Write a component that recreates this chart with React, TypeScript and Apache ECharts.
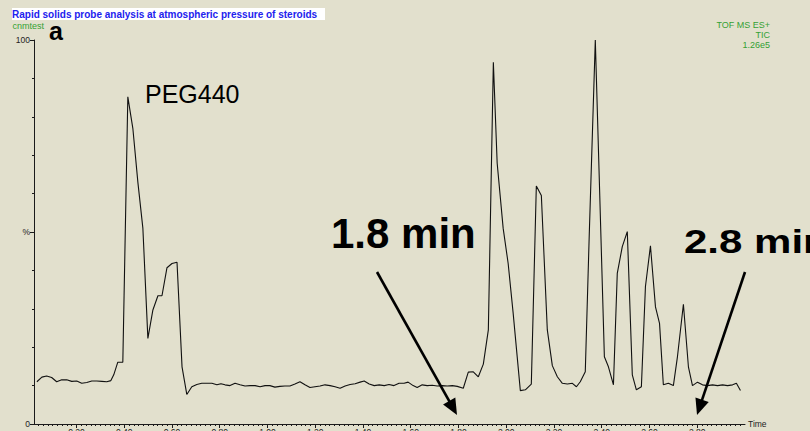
import React, { useEffect, useRef } from 'react';
import * as echarts from 'echarts';

// Retention time (min)
const times = [
  0.034, 0.055, 0.075, 0.096, 0.117, 0.138, 0.159, 0.180, 0.201, 0.222,
  0.243, 0.264, 0.285, 0.306, 0.327, 0.344, 0.356, 0.373, 0.394, 0.415,
  0.436, 0.457, 0.478, 0.499, 0.520, 0.541, 0.558, 0.579, 0.600, 0.621,
  0.642, 0.662, 0.683, 0.704, 0.725, 0.746, 0.767, 0.788, 0.805, 0.822,
  0.843, 0.864, 0.885, 0.906, 0.927, 0.948, 0.969, 0.990, 1.010, 1.031,
  1.052, 1.073, 1.094, 1.115, 1.136, 1.157, 1.178, 1.199, 1.220, 1.241,
  1.262, 1.283, 1.304, 1.325, 1.346, 1.367, 1.388, 1.405, 1.426, 1.447,
  1.468, 1.489, 1.509, 1.530, 1.551, 1.572, 1.589, 1.610, 1.627, 1.648,
  1.669, 1.690, 1.711, 1.732, 1.753, 1.774, 1.795, 1.820, 1.841, 1.862,
  1.883, 1.904, 1.925, 1.946, 1.962, 1.987, 2.008, 2.029, 2.059, 2.080,
  2.105, 2.126, 2.147, 2.172, 2.193, 2.214, 2.235, 2.256, 2.277, 2.294,
  2.310, 2.331, 2.348, 2.373, 2.411, 2.428, 2.449, 2.465, 2.486, 2.507,
  2.528, 2.545, 2.566, 2.583, 2.604, 2.625, 2.642, 2.658, 2.679, 2.700,
  2.717, 2.742, 2.763, 2.780, 2.801, 2.822, 2.843, 2.864, 2.885, 2.906,
  2.927, 2.948, 2.964, 2.981,
];

// Relative intensity (%)
const intensity = [
  11.0, 12.2, 12.5, 12.1, 11.0, 11.5, 11.5, 11.1, 11.2, 10.6,
  10.8, 11.2, 11.2, 11.1, 11.0, 11.3, 12.8, 16.1, 16.1, 85.2,
  77.0, 63.0, 51.0, 22.3, 29.7, 33.4, 33.4, 40.7, 41.8, 42.1,
  14.9, 7.7, 9.7, 10.3, 10.6, 10.6, 10.6, 10.2, 10.5, 10.2,
  10.0, 10.6, 10.2, 9.9, 10.0, 10.0, 9.7, 10.0, 10.0, 9.6,
  9.8, 9.9, 9.9, 10.4, 11.0, 10.2, 9.5, 9.7, 9.9, 10.2,
  10.0, 9.7, 9.3, 9.9, 10.3, 10.5, 10.9, 11.2, 10.4, 10.0,
  10.2, 10.0, 10.3, 10.0, 10.6, 10.6, 10.9, 10.0, 9.5, 10.2,
  10.0, 10.1, 9.9, 10.0, 9.9, 10.0, 9.8, 9.3, 13.5, 13.6,
  12.3, 15.6, 24.5, 94.2, 67.9, 51.0, 41.8, 28.8, 8.7, 8.9,
  10.4, 62.0, 59.5, 24.5, 15.2, 12.3, 10.6, 10.4, 10.6, 9.7,
  11.0, 13.6, 50.0, 100.0, 17.5, 14.9, 10.2, 39.2, 46.2, 50.1,
  12.8, 8.9, 9.7, 35.8, 46.4, 30.5, 26.2, 10.2, 10.6, 10.0,
  17.5, 31.2, 14.9, 10.0, 10.9, 10.2, 10.0, 10.2, 10.0, 10.2,
  10.0, 10.2, 10.6, 8.7,
];

const xMajorTicks = [0.2, 0.4, 0.6, 0.8, 1.0, 1.2, 1.4, 1.6, 1.8, 2.0, 2.2, 2.4, 2.6, 2.8];
const xMinorStep = 0.02;
const yLabelMap: Record<number, string> = { 0: '0', 50: '%', 100: '100' };

const FONT = '"Liberation Sans", Arial, Helvetica, sans-serif';
const BG = '#e2e0cd';
const GREEN = '#34a034';

function arrow(x1: number, y1: number, x2: number, y2: number, L = 16, hw = 7) {
  const dx = x2 - x1;
  const dy = y2 - y1;
  const len = Math.hypot(dx, dy);
  const ux = dx / len;
  const uy = dy / len;
  const bx = x2 - ux * L;
  const by = y2 - uy * L;
  const px = -uy;
  const py = ux;
  return [
    {
      type: 'line',
      silent: true,
      z: 100,
      shape: { x1, y1, x2: bx + ux * 3, y2: by + uy * 3 },
      style: { stroke: '#000', lineWidth: 2.6 },
    },
    {
      type: 'polygon',
      silent: true,
      z: 100,
      shape: {
        points: [
          [x2, y2],
          [bx + px * hw, by + py * hw],
          [bx - px * hw, by - py * hw],
        ],
      },
      style: { fill: '#000' },
    },
  ];
}

export default function App() {
  const ref = useRef<HTMLDivElement>(null);

  useEffect(() => {
    document.body.style.margin = '0';
    document.body.style.background = BG;
    const chart = echarts.init(ref.current!, null, { renderer: 'svg' });

    const minor: number[] = [];
    for (let i = 2; i <= 149; i++) minor.push(+(i * xMinorStep).toFixed(2));

    const data = times.map((t, i) => [t, intensity[i]]);

    const xMin = 0.022;
    const xMax = 3.0;

    const option: any = {
      animation: false,
      backgroundColor: BG,
      textStyle: { fontFamily: FONT },
      grid: {
        left: 34,
        right: 65,
        top: 40,
        bottom: 7,
        containLabel: false,
        outerBoundsMode: 'none',
      },
      xAxis: [
        {
          type: 'value',
          min: xMin,
          max: xMax,
          position: 'bottom',
          name: 'Time',
          nameLocation: 'end',
          nameGap: 3,
          nameTextStyle: { fontSize: 8.5, color: '#222', fontFamily: FONT },
          axisLine: { show: true, lineStyle: { color: '#1a1a1a', width: 1 } },
          axisTick: {
            show: true,
            length: 4,
            customValues: xMajorTicks,
            lineStyle: { color: '#1a1a1a' },
          },
          axisLabel: {
            show: true,
            customValues: xMajorTicks,
            margin: 3,
            fontSize: 8.5,
            color: '#222',
            fontFamily: FONT,
            formatter: (v: number) => v.toFixed(2),
          },
          splitLine: { show: false },
        },
        {
          type: 'value',
          min: xMin,
          max: xMax,
          position: 'bottom',
          offset: 0,
          axisLine: { show: false },
          axisTick: {
            show: true,
            length: 2,
            customValues: minor,
            lineStyle: { color: '#1a1a1a' },
          },
          axisLabel: { show: false },
          splitLine: { show: false },
        },
      ],
      yAxis: {
        type: 'value',
        min: 0,
        max: 100,
        interval: 50,
        axisLine: { show: true, lineStyle: { color: '#1a1a1a', width: 1 } },
        axisTick: { show: true, length: 4, lineStyle: { color: '#1a1a1a' } },
        minorTick: { show: true, splitNumber: 5, length: 2, lineStyle: { color: '#1a1a1a' } },
        minorSplitLine: { show: false },
        splitLine: { show: false },
        axisLabel: {
          margin: 4,
          fontSize: 8.5,
          color: '#222',
          fontFamily: FONT,
          formatter: (v: number) => yLabelMap[v] ?? '',
        },
      },
      series: [
        {
          type: 'line',
          xAxisIndex: 0,
          yAxisIndex: 0,
          data,
          showSymbol: false,
          symbol: 'none',
          clip: false,
          lineStyle: { color: '#111', width: 1.1 },
          silent: true,
        },
      ],
      graphic: [
        {
          type: 'rect',
          silent: true,
          shape: { x: 12, y: 8, width: 313, height: 12 },
          style: { fill: '#ffffff' },
        },
        {
          type: 'text',
          silent: true,
          x: 12,
          y: 14.8,
          style: {
            text: 'Rapid solids probe analysis at atmospheric pressure of steroids',
            fontSize: 10,
            fontWeight: 'bold',
            fontFamily: FONT,
            fill: '#2222ee',
            align: 'left',
            verticalAlign: 'middle',
          },
        },
        {
          type: 'text',
          silent: true,
          x: 12.5,
          y: 25.6,
          style: {
            text: 'cnmtest',
            fontSize: 9,
            fontFamily: FONT,
            fill: GREEN,
            align: 'left',
            verticalAlign: 'middle',
          },
        },
        {
          type: 'text',
          silent: true,
          x: 49,
          y: 31,
          style: {
            text: 'a',
            fontSize: 25,
            lineHeight: 16,
            fontWeight: 'bold',
            fontFamily: FONT,
            fill: '#000',
            align: 'left',
            verticalAlign: 'middle',
          },
        },
        {
          type: 'text',
          silent: true,
          x: 770,
          y: 25,
          style: { text: 'TOF MS ES+', fontSize: 9, fontFamily: FONT, fill: GREEN, align: 'right', verticalAlign: 'middle' },
        },
        {
          type: 'text',
          silent: true,
          x: 770,
          y: 35,
          style: { text: 'TIC', fontSize: 9, fontFamily: FONT, fill: GREEN, align: 'right', verticalAlign: 'middle' },
        },
        {
          type: 'text',
          silent: true,
          x: 770,
          y: 45,
          style: { text: '1.26e5', fontSize: 9, fontFamily: FONT, fill: GREEN, align: 'right', verticalAlign: 'middle' },
        },
        {
          type: 'text',
          silent: true,
          x: 145,
          y: 94,
          style: {
            text: 'PEG440',
            fontSize: 25,
            fontFamily: FONT,
            fill: '#000',
            align: 'left',
            verticalAlign: 'middle',
          },
        },
        {
          type: 'text',
          silent: true,
          z: 100,
          x: 331,
          y: 233.8,
          style: {
            text: '1.8 min',
            fontSize: 42,
            fontWeight: 'bold',
            fontFamily: FONT,
            fill: '#000',
            align: 'left',
            verticalAlign: 'middle',
          },
        },
        {
          type: 'text',
          silent: true,
          z: 100,
          x: 684,
          y: 241.9,
          scaleX: 1,
          scaleY: 0.78,
          style: {
            text: '2.8 min',
            fontSize: 42,
            fontWeight: 'bold',
            fontFamily: FONT,
            fill: '#000',
            align: 'left',
            verticalAlign: 'middle',
          },
        },
        ...arrow(377, 272, 457, 415),
        ...arrow(745, 272, 697, 415),
      ],
    };

    chart.setOption(option);
    return () => chart.dispose();
  }, []);

  return (
    <div
      ref={ref}
      style={{ position: 'fixed', left: 0, top: 0, width: 810, height: 431 }}
    />
  );
}
